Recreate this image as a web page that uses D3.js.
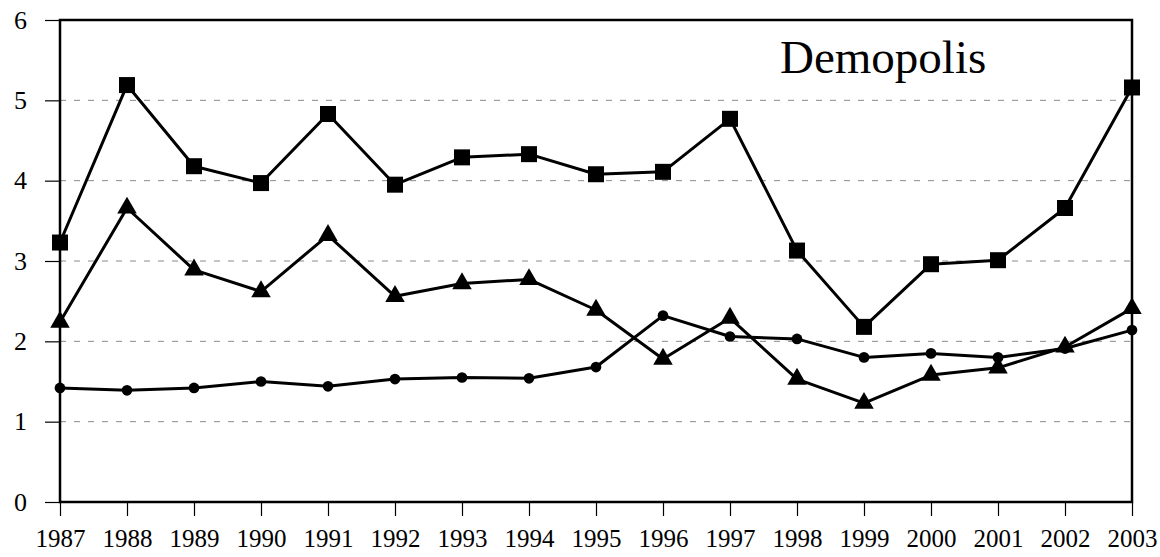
<!DOCTYPE html>
<html>
<head>
<meta charset="utf-8">
<script src="https://cdn.jsdelivr.net/npm/d3@7"></script>
<style>
  html, body { margin: 0; padding: 0; background: #fff; }
  svg { display: block; }
  text { font-family: "Liberation Serif", "Times New Roman", Times, serif; fill: #000; }
</style>
</head>
<body>
<svg id="chart" width="1160" height="557"></svg>
<script>
const years = [1987,1988,1989,1990,1991,1992,1993,1994,1995,1996,1997,1998,1999,2000,2001,2002,2003];
const squareSeries = [3.23,5.19,4.18,3.97,4.83,3.95,4.29,4.33,4.08,4.11,4.77,3.13,2.18,2.96,3.01,3.66,5.16];
const triangleSeries = [2.24,3.66,2.89,2.62,3.32,2.56,2.72,2.77,2.39,1.78,2.29,1.53,1.23,1.58,1.67,1.93,2.41];
const circleSeries = [1.42,1.39,1.42,1.50,1.44,1.53,1.55,1.54,1.68,2.32,2.06,2.03,1.80,1.85,1.80,1.91,2.14];
const yTicks = [0,1,2,3,4,5,6];
const title = "Demopolis";

const FONT = '"Liberation Serif", "Times New Roman", Times, serif';
const svg = d3.select("#chart");
const mLeft = 60, mRight = 1132, mTop = 20, mBottom = 502;

const x = d3.scalePoint().domain(years).range([mLeft, mRight]);
const y = d3.scaleLinear().domain([0, 6]).range([mBottom, mTop]);

// gridlines
svg.append("g").selectAll("line")
  .data(yTicks.filter(d => d > 0 && d < 6))
  .join("line")
  .attr("x1", mLeft).attr("x2", mRight)
  .attr("y1", d => y(d)).attr("y2", d => y(d))
  .attr("stroke", "#8a8a8a").attr("stroke-width", 1)
  .attr("stroke-dasharray", "6,8");

// frame
svg.append("rect")
  .attr("x", mLeft).attr("y", mTop)
  .attr("width", mRight - mLeft).attr("height", mBottom - mTop)
  .attr("fill", "none").attr("stroke", "#000").attr("stroke-width", 2.5);

// y axis
const yAxis = svg.append("g").attr("transform", `translate(${mLeft},0)`)
  .attr("font-family", FONT)
  .call(d3.axisLeft(y).tickValues(yTicks).tickFormat(d3.format("d")).tickSize(15).tickPadding(18));
yAxis.select(".domain").remove();
yAxis.selectAll(".tick line").attr("stroke", "#000").attr("stroke-width", 1.2);
yAxis.selectAll(".tick text").style("font-size", "26px").style("font-family", FONT).attr("fill", "#000");

// x axis
const xAxis = svg.append("g").attr("transform", `translate(0,${mBottom})`)
  .attr("font-family", FONT)
  .call(d3.axisBottom(x).tickSize(14).tickPadding(13));
xAxis.select(".domain").remove();
xAxis.selectAll(".tick line").attr("stroke", "#000").attr("stroke-width", 1.2);
xAxis.selectAll(".tick text").style("font-size", "25px").style("font-family", FONT).attr("fill", "#000").attr("dy", "0.71em");

const line = d3.line().x((d, i) => x(years[i])).y(d => y(d));

function drawSeries(data, symbolType, size) {
  const g = svg.append("g");
  g.append("path").datum(data)
    .attr("d", line).attr("fill", "none")
    .attr("stroke", "#000").attr("stroke-width", 3).attr("stroke-linejoin", "round");
  g.selectAll("path.m").data(data).join("path")
    .attr("class", "m")
    .attr("transform", (d, i) => `translate(${x(years[i])},${y(d)})`)
    .attr("d", d3.symbol().type(symbolType).size(size))
    .attr("fill", "#000");
}

drawSeries(circleSeries, d3.symbolCircle, 90);
drawSeries(triangleSeries, d3.symbolTriangle, 165);
drawSeries(squareSeries, d3.symbolSquare, 256);

svg.append("text")
  .attr("x", 780).attr("y", 73)
  .style("font-size", "47px").style("font-family", FONT)
  .text(title);
</script>
</body>
</html>
